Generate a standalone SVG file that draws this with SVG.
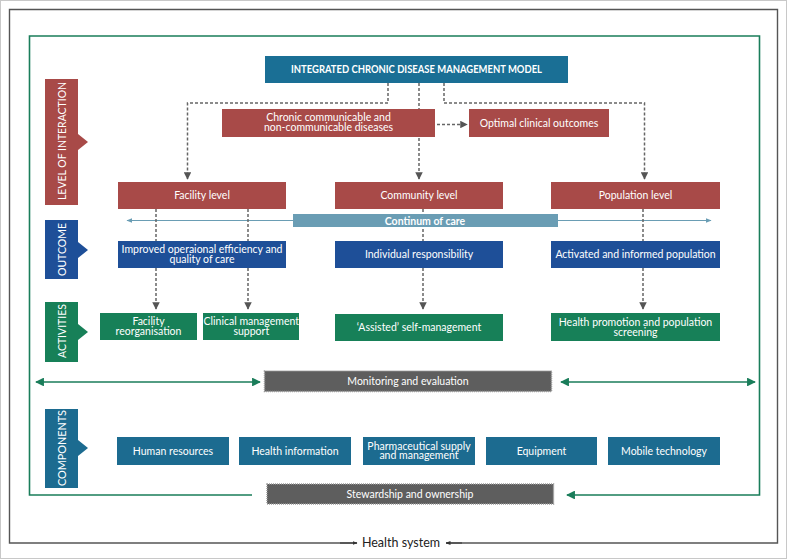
<svg xmlns="http://www.w3.org/2000/svg" width="787" height="559" viewBox="0 0 787 559">
<defs>
<style>
text{font-family:Lato,"Open Sans","Liberation Sans",sans-serif;fill:#fff;text-anchor:middle}
.t{font-size:10.5px}
.b{font-weight:bold}
.lbl{font-size:11.5px}
.red{fill:#a84a48}
.blue{fill:#1e4f98}
.grn{fill:#178058}
.teal{fill:#1c6b90}
.dash{fill:none;stroke:#666;stroke-width:1.5;stroke-dasharray:3 2}
.gl{fill:none;stroke:#1a7d5a;stroke-width:1.6}
.bar{fill:#5e5e5e;stroke:#9a9a9a;stroke-width:1.5;stroke-dasharray:1 1}
</style>
<marker id="ad" viewBox="0 0 10 10" refX="9" refY="5" markerWidth="5" markerHeight="5" orient="auto"><path d="M0,0L10,5L0,10z" fill="#555"/></marker>
<marker id="ag" viewBox="0 0 10 10" refX="9" refY="5" markerWidth="5.5" markerHeight="5.5" orient="auto-start-reverse"><path d="M0,0L10,5L0,10z" fill="#1a7d5a"/></marker>
<marker id="ab" viewBox="0 0 10 10" refX="9" refY="5" markerWidth="6" markerHeight="6" orient="auto"><path d="M0,1L10,5L0,9z" fill="#6a9db4"/></marker>
<marker id="ak" viewBox="0 0 10 10" refX="9" refY="5" markerWidth="5" markerHeight="5" orient="auto"><path d="M0,1L10,5L0,9z" fill="#333"/></marker>
</defs>
<rect x="0.5" y="0.5" width="786" height="558" fill="#fff" stroke="#c8c8c8"/>
<g id="frame">
<path d="M357,543H9.5V9.5H777.5V543H446" fill="none" stroke="#555" stroke-width="1.4"/>
<path d="M340,543H357" stroke="#333" stroke-width="1" marker-end="url(#ak)"/>
<path d="M462,543H446" stroke="#333" stroke-width="1" marker-end="url(#ak)"/>
<text x="401" y="547" style="fill:#222;font-size:12.5px">Health system</text>
</g>
<g id="connectors">
<path class="gl" d="M252,495H29.5V36H759.5V495H567" marker-end="url(#ag)"/>
<path class="gl" d="M36,382H260" marker-start="url(#ag)" marker-end="url(#ag)"/>
<path class="gl" d="M561,382H755" marker-start="url(#ag)" marker-end="url(#ag)"/>
<path class="dash" d="M388,83V103H187.5V179" marker-end="url(#ad)"/>
<path class="dash" d="M419,83V179" marker-end="url(#ad)"/>
<path class="dash" d="M444,83V103H644.5V179" marker-end="url(#ad)"/>
<path class="dash" d="M437,124.5H467" marker-end="url(#ad)"/>
<path d="M293,220.5H127" stroke="#6a9db4" stroke-width="1" marker-end="url(#ab)"/>
<path d="M558,220.5H711" stroke="#6a9db4" stroke-width="1" marker-end="url(#ab)"/>
<path class="dash" d="M156,209V241M248,209V241M423,209V241M643,209V241"/>
<path class="dash" d="M156,268V309" marker-end="url(#ad)"/>
<path class="dash" d="M248,268V309" marker-end="url(#ad)"/>
<path class="dash" d="M423,268V309" marker-end="url(#ad)"/>
<path class="dash" d="M643,268V309" marker-end="url(#ad)"/>
</g>
<g id="lab-level"><path class="red" d="M45,79H78V134L88,142L78,150V205H45z"/><text class="lbl" transform="translate(66,141) rotate(-90)" textLength="118" lengthAdjust="spacingAndGlyphs">LEVEL OF INTERACTION</text></g>
<g id="lab-outcome"><path class="blue" d="M45,220H78V242L88,250L78,258V279H45z"/><text class="lbl" transform="translate(66,249.5) rotate(-90)" textLength="53" lengthAdjust="spacingAndGlyphs">OUTCOME</text></g>
<g id="lab-activities"><path class="grn" d="M45,302H78V324L88,332L78,340V362H45z"/><text class="lbl" transform="translate(66,331) rotate(-90)" textLength="54" lengthAdjust="spacingAndGlyphs">ACTIVITIES</text></g>
<g id="lab-components"><path class="teal" d="M45,409H78V440L88,448L78,456V488H45z"/><text class="lbl" transform="translate(66,448) rotate(-90)" textLength="76" lengthAdjust="spacingAndGlyphs">COMPONENTS</text></g>
<g id="title"><rect x="265" y="56" width="303" height="27" fill="#1a6f95"/><text class="t b" x="416.5" y="73" textLength="251" lengthAdjust="spacingAndGlyphs">INTEGRATED CHRONIC DISEASE MANAGEMENT MODEL</text></g>
<g id="chronic"><rect class="red" x="222" y="109" width="213" height="28"/><text class="t" x="328.5" y="121">Chronic communicable and</text><text class="t" x="328.5" y="131">non-communicable diseases</text></g>
<g id="optimal"><rect class="red" x="469" y="109" width="140" height="28"/><text class="t" x="539" y="127">Optimal clinical outcomes</text></g>
<g id="facility"><rect class="red" x="118" y="182" width="168" height="27"/><text class="t" x="202" y="199">Facility level</text></g>
<g id="community"><rect class="red" x="335" y="182" width="168" height="27"/><text class="t" x="419" y="199">Community level</text></g>
<g id="population"><rect class="red" x="551" y="182" width="169" height="27"/><text class="t" x="635.5" y="199">Population level</text></g>
<g id="continuum"><rect x="293" y="214" width="265" height="13" fill="#6a9db4"/><text class="t b" x="425" y="224.5">Continum of care</text></g>
<g id="improved"><rect class="blue" x="118" y="241" width="168" height="27"/><text class="t" x="202" y="253">Improved operaional efficiency and</text><text class="t" x="202" y="263">quality of care</text></g>
<g id="individual"><rect class="blue" x="335" y="241" width="168" height="27"/><text class="t" x="419" y="258">Individual responsibility</text></g>
<g id="activated"><rect class="blue" x="551" y="241" width="169" height="27"/><text class="t" x="635.5" y="258">Activated and informed population</text></g>
<g id="reorg"><rect class="grn" x="100" y="313" width="97" height="27"/><text class="t" x="148.5" y="325">Facility</text><text class="t" x="148.5" y="335">reorganisation</text></g>
<g id="clinical"><rect class="grn" x="203" y="313" width="96" height="27"/><text class="t" x="251.3" y="325">Clinical management</text><text class="t" x="251.3" y="335">support</text></g>
<g id="assisted"><rect class="grn" x="335" y="314" width="168" height="27"/><text class="t" x="419" y="331">‘Assisted’ self-management</text></g>
<g id="promotion"><rect class="grn" x="551" y="313" width="169" height="28"/><text class="t" x="635.5" y="325.5">Health promotion and population</text><text class="t" x="635.5" y="335.5">screening</text></g>
<g id="monitoring"><rect class="bar" x="264.5" y="371" width="287" height="20.5"/><text class="t" x="408" y="385">Monitoring and evaluation</text></g>
<g id="hr"><rect class="teal" x="117" y="437" width="112" height="28"/><text class="t" x="173" y="454.5">Human resources</text></g>
<g id="hi"><rect class="teal" x="239" y="437" width="112" height="28"/><text class="t" x="295" y="454.5">Health information</text></g>
<g id="pharma"><rect class="teal" x="363" y="437" width="112" height="28"/><text class="t" x="419" y="449.5">Pharmaceutical supply</text><text class="t" x="419" y="459">and management</text></g>
<g id="equip"><rect class="teal" x="486" y="437" width="111" height="28"/><text class="t" x="541.5" y="454.5">Equipment</text></g>
<g id="mobile"><rect class="teal" x="608" y="437" width="112" height="28"/><text class="t" x="664" y="454.5">Mobile technology</text></g>
<g id="stewardship"><rect class="bar" x="267" y="484" width="286.5" height="20"/><text class="t" x="410" y="498">Stewardship and ownership</text></g>
</svg>
